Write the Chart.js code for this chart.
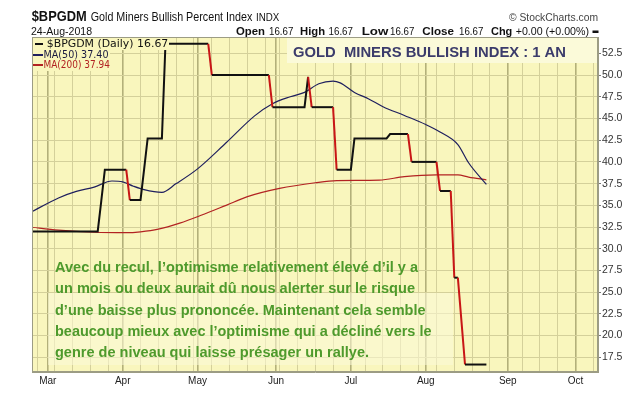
<!DOCTYPE html>
<html>
<head>
<meta charset="utf-8">
<title>$BPGDM</title>
<script src="https://cdn.jsdelivr.net/npm/chart.js@4/dist/chart.umd.min.js"></script>
<style>
  html, body { margin: 0; padding: 0; background: #ffffff; }
  #wrap { width: 629px; height: 397px; }
</style>
</head>
<body>
<div id="wrap"><canvas id="c" width="629" height="397"></canvas></div>
<script>
// x positions are trading-day indexes: 0 = 1 Mar 2018
const monthTickDays = [0, 21, 42, 64, 85, 106, 129, 148];
const monthLabels = ['Mar', 'Apr', 'May', 'Jun', 'Jul', 'Aug', 'Sep', 'Oct'];
const weekTickDays = [-3, 2, 7, 12, 17, 26, 31, 36, 41, 46, 51, 56, 61, 65, 70, 75, 80,
  89, 94, 99, 104, 109, 114, 119, 124, 133, 138, 143, 153];
const yTickValues = [17.5, 20, 22.5, 25, 27.5, 30, 32.5, 35, 37.5, 40, 42.5, 45, 47.5, 50, 52.5];

// $BPGDM daily close (turning points of the series)
const priceDays = [-5, 14, 15, 16, 22, 23, 26, 27, 28, 32, 33, 45, 46, 62, 63, 72, 73, 74,
  80, 81, 85, 86, 95, 96, 101, 102, 109, 110, 113, 114, 115, 116, 117, 123];
const priceValues = [32.0, 32.0, 35.5, 39.1, 39.1, 35.6, 35.6, 39.1, 42.7, 42.7, 53.6, 53.6,
  50.0, 50.0, 46.3, 46.3, 49.8, 46.3, 46.3, 39.1, 39.1, 42.7, 42.7, 43.2, 43.2, 40.0, 40.0,
  36.65, 36.65, 26.67, 26.67, 21.7, 16.67, 16.67];

// 50-day moving average
const ma50Days = [-5, 3, 8, 13, 18, 21, 24, 27, 32, 36, 42, 50, 58, 63, 68, 72, 76, 80, 82,
  86, 90, 94, 100, 106, 110, 115, 118, 123];
const ma50Values = [34.15, 35.85, 36.6, 37.1, 37.8, 37.7, 37.2, 36.8, 36.5, 37.5, 39.2, 42.2,
  45.3, 46.7, 47.5, 48.0, 49.0, 49.3, 49.1, 48.0, 47.25, 46.35, 45.35, 44.3, 43.45, 42.0, 39.9, 37.40];

// 200-day moving average
const ma200Days = [-5, 3, 13, 22, 26, 31, 37, 43, 50, 56, 65, 75, 81, 93, 100, 109, 115, 118, 123];
const ma200Values = [32.5, 32.15, 31.9, 31.85, 31.95, 32.25, 32.95, 33.85, 35.0, 36.0, 36.95,
  37.6, 37.85, 37.9, 38.3, 38.5, 38.5, 38.25, 37.94];

const commentLines = [
  'Avec du recul, l’optimisme relativement élevé d’il y a',
  'un mois ou deux aurait dû nous alerter sur le risque',
  'd’une baisse plus prononcée. Maintenant cela semble',
  'beaucoup mieux avec l’optimisme qui a décliné vers le',
  'genre de niveau qui laisse présager un rallye.'
];

const PLOT_BG = '#f9f6bd';
const PALE_BOX = '#fbfad9';
const GRID = '#d4d09a';
const GRID_MONTH = '#b3b07a';
const FRAME = '#9c9c84';
const SANS = "'Liberation Sans', Arial, sans-serif";

Chart.defaults.font.family = SANS;

function toPoints(days, values) {
  return days.map((d, i) => ({ x: d, y: values[i] }));
}

// draw text squeezed/stretched to a given width
function fitText(ctx, text, x, y, w, font, color) {
  ctx.save();
  ctx.font = font;
  ctx.fillStyle = color;
  ctx.textAlign = 'left';
  ctx.textBaseline = 'middle';
  const m = ctx.measureText(text).width;
  ctx.translate(x, y);
  ctx.scale(w / m, 1);
  ctx.fillText(text, 0, 0);
  ctx.restore();
}

const backdrop = {
  id: 'backdrop',
  beforeDraw(chart) {
    const { ctx, chartArea: a } = chart;
    ctx.save();
    ctx.fillStyle = '#ffffff';
    ctx.fillRect(0, 0, chart.width, chart.height);
    ctx.fillStyle = PLOT_BG;
    ctx.fillRect(a.left, a.top, a.right - a.left, a.bottom - a.top);
    ctx.restore();
  },
  beforeDatasetsDraw(chart) {
    const { ctx } = chart;
    ctx.save();
    // title panel
    ctx.fillStyle = PALE_BOX;
    ctx.fillRect(287, 38, 310, 25);
    // commentary panel
    ctx.globalAlpha = 0.55;
    ctx.fillRect(48, 293, 405, 72);
    ctx.restore();
  }
};

const overlay = {
  id: 'overlay',
  afterDatasetsDraw(chart) {
    const { ctx } = chart;
    ctx.save();
    // legend rows
    ctx.fillStyle = PLOT_BG;
    ctx.fillRect(33, 38, 136, 12);
    ctx.fillRect(33, 49, 77, 11);
    ctx.fillRect(33, 59, 79, 12);
    ctx.fillStyle = '#111111';
    ctx.fillRect(35, 43, 8, 2);
    ctx.fillStyle = '#1f1f5e';
    ctx.fillRect(33, 54, 10, 2);
    ctx.fillStyle = '#b22222';
    ctx.fillRect(33, 64, 10, 2);
    fitText(ctx, '$BPGDM (Daily) 16.67', 46.7, 44.5, 121.6, "11px 'DejaVu Sans'", '#111111');
    fitText(ctx, 'MA(50) 37.40', 43.5, 55, 65, "11px 'DejaVu Sans'", '#1a1a40');
    fitText(ctx, 'MA(200) 37.94', 43.5, 65.5, 66.5, "11px 'DejaVu Sans'", '#b22222');

    // panel title
    fitText(ctx, 'GOLD  MINERS BULLISH INDEX : 1 AN', 293, 52.5, 273, 'bold 15px ' + SANS, '#3b3b6b');

    // commentary
    const ys = [268.3, 289.2, 310.6, 332.0, 353.3];
    const ws = [363, 360, 370.5, 376.5, 314];
    commentLines.forEach((t, i) => {
      fitText(ctx, t, 55, ys[i], ws[i], 'bold 14.5px ' + SANS, '#4e9a2c');
    });
    ctx.restore();
  },
  afterDraw(chart) {
    const { ctx, chartArea: a } = chart;
    ctx.save();
    ctx.strokeStyle = FRAME;
    ctx.lineWidth = 1;
    ctx.strokeRect(a.left + 0.5, a.top + 0.5, a.right - a.left - 1, a.bottom - a.top - 1);

    // header
    fitText(ctx, '$BPGDM', 31.7, 17.5, 55, 'bold 14px ' + SANS, '#111111');
    fitText(ctx, 'Gold Miners Bullish Percent Index', 90.7, 17.8, 161.6, '12px ' + SANS, '#111111');
    fitText(ctx, 'INDX', 256, 18, 23.3, '10px ' + SANS, '#111111');
    fitText(ctx, '© StockCharts.com', 509, 17.5, 89, '11px ' + SANS, '#444444');
    fitText(ctx, '24-Aug-2018', 31, 31.5, 61, '11px ' + SANS, '#111111');

    const y = 31.7;
    const B = 'bold 11.5px ' + SANS, N = '11px ' + SANS;
    fitText(ctx, 'Open', 236, y, 29, B, '#111111');
    fitText(ctx, '16.67', 269, y, 24.3, N, '#111111');
    fitText(ctx, 'High', 300, y, 25, B, '#111111');
    fitText(ctx, '16.67', 328.5, y, 24.5, N, '#111111');
    fitText(ctx, 'Low', 361.7, y, 26.6, B, '#111111');
    fitText(ctx, '16.67', 390, y, 24.3, N, '#111111');
    fitText(ctx, 'Close', 422.3, y, 31.7, B, '#111111');
    fitText(ctx, '16.67', 459, y, 24.3, N, '#111111');
    fitText(ctx, 'Chg', 491, y, 21.3, B, '#111111');
    fitText(ctx, '+0.00 (+0.00%)', 515.7, y, 73.3, N, '#111111');
    ctx.fillStyle = '#111111';
    ctx.fillRect(592.5, 30.5, 6, 2.5);
    ctx.restore();
  }
};

const allXTicks = [...new Set([...weekTickDays, ...monthTickDays])].sort((p, q) => p - q);

new Chart(document.getElementById('c'), {
  type: 'line',
  data: {
    datasets: [
      {
        label: '$BPGDM (Daily)',
        data: toPoints(priceDays, priceValues),
        borderColor: '#111111',
        borderWidth: 2,
        pointRadius: 0,
        tension: 0,
        segment: {
          borderColor: c => (c.p1.parsed.y < c.p0.parsed.y ? '#c81616' : '#111111')
        }
      },
      {
        label: 'MA(50)',
        data: toPoints(ma50Days, ma50Values),
        borderColor: '#1f1f5e',
        borderWidth: 1.2,
        pointRadius: 0,
        cubicInterpolationMode: 'monotone'
      },
      {
        label: 'MA(200)',
        data: toPoints(ma200Days, ma200Values),
        borderColor: '#b22222',
        borderWidth: 1.2,
        pointRadius: 0,
        cubicInterpolationMode: 'monotone'
      }
    ]
  },
  options: {
    responsive: false,
    animation: false,
    events: [],
    layout: { padding: { left: 32, top: 37, right: 0, bottom: 0 } },
    plugins: { legend: { display: false }, tooltip: { enabled: false } },
    scales: {
      x: {
        type: 'linear',
        min: -4.43,
        max: 154.3,
        afterBuildTicks: s => { s.ticks = allXTicks.map(v => ({ value: v })); },
        afterFit: s => { s.height = 25; },
        ticks: {
          autoSkip: false,
          maxRotation: 0,
          padding: 3,
          color: '#222222',
          font: { size: 10 },
          callback: v => {
            const k = monthTickDays.indexOf(v);
            return k >= 0 ? monthLabels[k] : '';
          }
        },
        grid: {
          drawTicks: false,
          color: c => (c.tick && monthTickDays.includes(c.tick.value) ? GRID_MONTH : GRID),
          lineWidth: c => (c.tick && monthTickDays.includes(c.tick.value) ? 1.6 : 1)
        },
        border: { display: true, color: FRAME }
      },
      y: {
        position: 'right',
        min: 15.81,
        max: 54.38,
        afterBuildTicks: s => { s.ticks = yTickValues.map(v => ({ value: v })); },
        afterFit: s => { s.width = 31; },
        ticks: {
          padding: 1,
          color: '#333333',
          font: { size: 10.5 },
          callback: v => Number(v).toFixed(1)
        },
        grid: { color: GRID, tickLength: 3, tickColor: '#777777' },
        border: { display: true, color: FRAME }
      }
    }
  },
  plugins: [backdrop, overlay]
});
</script>
</body>
</html>
